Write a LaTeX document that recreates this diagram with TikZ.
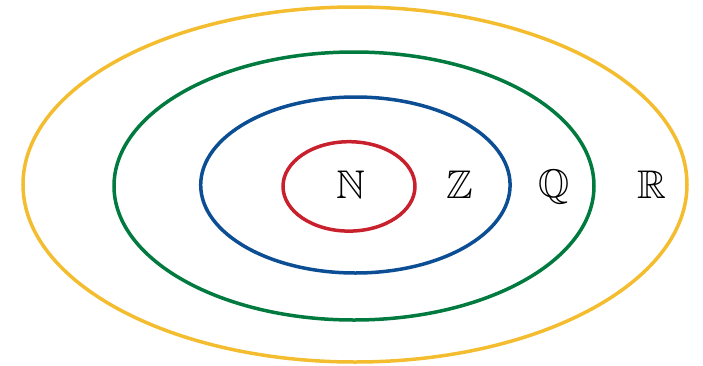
\documentclass[tikz,border=0pt]{standalone}
\usepackage{amsmath}
\usepackage{amssymb}
\usepackage{amsfonts}
\usepackage{tikz}

\definecolor{setyellow}{RGB}{244,189,48}
\definecolor{setgreen}{RGB}{0,122,62}
\definecolor{setblue}{RGB}{12,78,148}
\definecolor{setred}{RGB}{200,32,44}

\begin{document}
\begin{tikzpicture}[x=0.5pt, y=-0.5pt, line width=1.75pt,
  setlabel/.style={inner sep=0pt, font=\fontsize{20}{24}\selectfont}]
\useasboundingbox (0,0) rectangle (703,365);
%\draw[step=50, gray!30, thin] (0,0) grid (703,365);
\draw[setyellow] (355,184.5) ellipse (332 and 177.5);
\draw[setgreen]  (354,186)   ellipse (240 and 134);
\draw[setblue]   (355.4,185) ellipse (154.7 and 88);
\draw[setred]    (349,186.4) ellipse (66 and 44.7);

\node[setlabel] (nat)  at (350.7,184.5) {$\mathbb{N}$};
\node[setlabel] (int)  at (460,185)     {$\mathbb{Z}$};
\node[setlabel] (rat)  at (554,187)     {$\mathbb{Q}$};
\node[setlabel] (real) at (652,185)     {$\mathbb{R}$};
\end{tikzpicture}
\end{document}
